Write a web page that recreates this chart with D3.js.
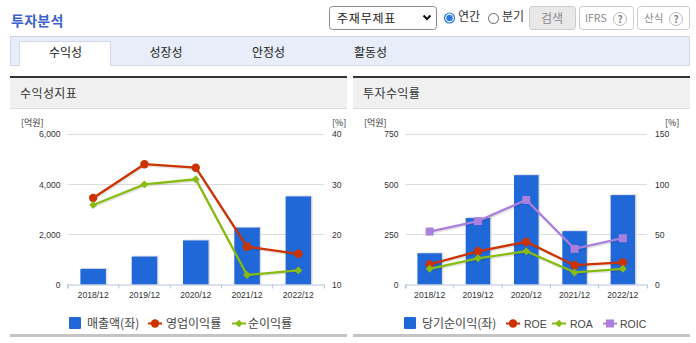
<!DOCTYPE html>
<html>
<head>
<meta charset="utf-8">
<script src="https://cdn.jsdelivr.net/npm/d3@7"></script>
<style>
html, body { margin: 0; padding: 0; background: #fff; overflow: hidden; }
text { font-family: "Noto Sans CJK KR", "Liberation Sans", sans-serif; }
.tick-label { font-family: "Liberation Sans", "Noto Sans CJK KR", sans-serif; font-size: 8.6px; fill: #333; }
</style>
</head>
<body>
<div id="chart"></div>
<script>
// values
const years = ["2018/12", "2019/12", "2020/12", "2021/12", "2022/12"];

const sales = [620, 1110, 1750, 2260, 3500];
const opMargin = [27.2, 33.9, 33.2, 17.5, 16.1];
const netMargin = [25.8, 29.9, 30.9, 11.9, 12.8];

const netIncome = [155, 330, 543, 265, 444];
const roe = [19.9, 33, 42.4, 19.2, 22];
const roa = [15.6, 26, 33, 12, 15.6];
const roic = [52.6, 63, 84, 35.4, 46];

const tabLabels = ["수익성", "성장성", "안정성", "활동성"];
const tabCenters = [65.5, 166, 268.5, 370.5];

const blue = "#2068d8", red = "#cc3300", green = "#88bb11", purple = "#aa7fdd";

const width = 696, height = 343;

const svg = d3.select("#chart")
    .append("svg")
    .attr("width", width)
    .attr("height", height)
    .style("display", "block");

// Header
svg.append("text").attr("x", 11).attr("y", 26)
    .attr("font-size", "14px").attr("font-weight", "bold").attr("letter-spacing", "0.3px").attr("fill", "#3b62cf")
    .text("투자분석");

function button(x, y, w, h, fill, stroke) {
    svg.append("rect").attr("x", x + 0.5).attr("y", y + 0.5).attr("width", w).attr("height", h)
        .attr("rx", 3).attr("fill", fill).attr("stroke", stroke);
}

function helpIcon(cx, cy) {
    svg.append("circle").attr("cx", cx).attr("cy", cy).attr("r", 6.5)
        .attr("fill", "#fff").attr("stroke", "#bbb");
    svg.append("text").attr("x", cx).attr("y", cy + 3.5).attr("text-anchor", "middle")
        .attr("font-size", "10px").attr("font-weight", "bold").attr("fill", "#888").text("?");
}

// select box
button(329, 6, 107, 23, "#fff", "#8a8a8a");
svg.append("text").attr("x", 337).attr("y", 23).attr("font-size", "12px").attr("letter-spacing", "0.8px").attr("fill", "#222").text("주재무제표");
svg.append("path").attr("d", "M423.5 15.5 L427 19 L430.5 15.5")
    .attr("fill", "none").attr("stroke", "#111").attr("stroke-width", 2);

// radios
svg.append("circle").attr("cx", 449.5).attr("cy", 18).attr("r", 5).attr("fill", "#fff").attr("stroke", "#2a77e0").attr("stroke-width", 1.2);
svg.append("circle").attr("cx", 449.5).attr("cy", 18).attr("r", 3.2).attr("fill", "#2a77e0");
svg.append("text").attr("x", 458).attr("y", 21).attr("font-size", "12px").attr("fill", "#333").text("연간");
svg.append("circle").attr("cx", 493.5).attr("cy", 18.5).attr("r", 5).attr("fill", "#fff").attr("stroke", "#666");
svg.append("text").attr("x", 502).attr("y", 21).attr("font-size", "12px").attr("fill", "#333").text("분기");

// buttons
button(529, 6, 46, 23, "#e8e8e8", "#ccc");
svg.append("text").attr("x", 552).attr("y", 23).attr("text-anchor", "middle").attr("font-size", "12px").attr("fill", "#888").text("검색");
button(579, 6, 54, 23, "#fff", "#ccc");
svg.append("text").attr("x", 585).attr("y", 22).attr("font-family", "Liberation Sans").attr("font-size", "10.5px").attr("fill", "#888").text("IFRS");
helpIcon(620, 19);
button(637, 6, 52, 23, "#fff", "#ccc");
svg.append("text").attr("x", 644).attr("y", 22).attr("font-size", "10.5px").attr("fill", "#888").text("산식");
helpIcon(676, 19);

// Tabs
svg.append("rect").attr("x", 10.5).attr("y", 36.5).attr("width", 679).attr("height", 29)
    .attr("fill", "#e8eef9").attr("stroke", "#d0d8e6");
svg.append("path").attr("d", "M19.5 66 V41.5 H110.5 V66").attr("fill", "#fff").attr("stroke", "#d0d8e6");

svg.selectAll(".tab")
    .data(tabLabels)
    .enter().append("text")
    .attr("class", "tab")
    .attr("x", (d, i) => tabCenters[i])
    .attr("y", 57)
    .attr("text-anchor", "middle")
    .attr("font-size", "12px")
    .attr("fill", "#222")
    .text(d => d);

// One panel: bars on the left axis, lines on the right axis
function drawPanel(cfg) {
    const g = svg.append("g");

    // title band
    g.append("rect").attr("x", cfg.left).attr("y", 78).attr("width", cfg.panelWidth).attr("height", 30).attr("fill", "#f0f0f0");
    g.append("rect").attr("x", cfg.left).attr("y", 76).attr("width", cfg.panelWidth).attr("height", 2).attr("fill", "#333");
    g.append("rect").attr("x", cfg.left).attr("y", 108).attr("width", cfg.panelWidth).attr("height", 1).attr("fill", "#ddd");
    g.append("text").attr("x", cfg.left + 10).attr("y", 98).attr("font-size", "12px").attr("letter-spacing", "0.4px").attr("fill", "#333").text(cfg.title);
    g.append("rect").attr("x", cfg.left).attr("y", 334).attr("width", cfg.panelWidth).attr("height", 3).attr("fill", "#c4c4c4");

    const x = d3.scaleBand().domain(years).range([cfg.x0, cfg.x1]);
    const yL = d3.scaleLinear().domain(cfg.leftDomain).range([284.5, 133.5]);
    const yR = d3.scaleLinear().domain(cfg.rightDomain).range([284.5, 133.5]);
    const cx = d => x(d) + x.bandwidth() / 2;

    // gridlines
    g.append("g").selectAll("line")
        .data(cfg.leftTicks.slice(1))
        .enter().append("line")
        .attr("x1", cfg.x0).attr("x2", cfg.x1)
        .attr("y1", d => Math.round(yL(d)) + 0.5).attr("y2", d => Math.round(yL(d)) + 0.5)
        .attr("stroke", "#dcdcdc");

    // bars with a soft shadow
    const barW = cfg.barWidth;
    g.append("g").selectAll("rect")
        .data(cfg.bars)
        .enter().append("rect")
        .attr("x", (d, i) => cx(years[i]) - barW / 2 + 1.5)
        .attr("y", d => yL(d) - 1)
        .attr("width", barW)
        .attr("height", d => yL(0) - yL(d) + 1)
        .attr("fill", "#e0e0e0");
    g.append("g").selectAll("rect")
        .data(cfg.bars)
        .enter().append("rect")
        .attr("x", (d, i) => cx(years[i]) - barW / 2)
        .attr("y", d => yL(d))
        .attr("width", barW)
        .attr("height", d => yL(0) - yL(d))
        .attr("fill", blue);

    // x axis
    const xAxis = g.append("g")
        .attr("transform", "translate(0,284.5)")
        .call(d3.axisBottom(x).tickSize(4).tickPadding(3).tickSizeOuter(4));
    xAxis.selectAll("path, line").attr("stroke", "#b4c4da");
    xAxis.selectAll(".tick line").attr("transform", `translate(${-x.bandwidth() / 2},0)`);
    xAxis.selectAll("text").attr("class", "tick-label");

    // y axes
    const left = g.append("g")
        .attr("transform", `translate(${cfg.x0},0)`)
        .call(d3.axisLeft(yL).tickValues(cfg.leftTicks).tickFormat(d3.format(",")).tickSize(0).tickPadding(7));
    const right = g.append("g")
        .attr("transform", `translate(${cfg.x1},0)`)
        .call(d3.axisRight(yR).tickValues(cfg.rightTicks).tickSize(0).tickPadding(8));
    left.select(".domain").remove();
    right.select(".domain").remove();
    left.selectAll("text").attr("class", "tick-label").attr("dy", "0.4em");
    right.selectAll("text").attr("class", "tick-label").attr("dy", "0.4em");

    // unit labels
    g.append("text").attr("x", cfg.unitL).attr("y", 126).attr("font-size", "9px").attr("fill", "#333").text("[억원]");
    g.append("text").attr("x", cfg.unitR).attr("y", 126).attr("font-size", "9px").attr("fill", "#333").text("[%]");

    // lines and markers
    cfg.lines.forEach(s => {
        const line = d3.line().x((d, i) => cx(years[i])).y(d => yR(d));
        g.append("path").datum(s.values)
            .attr("fill", "none").attr("stroke", "#000").attr("stroke-opacity", 0.1)
            .attr("stroke-width", 2.3).attr("transform", "translate(1,1.5)").attr("d", line);
        g.append("path").datum(s.values)
            .attr("fill", "none").attr("stroke", s.color).attr("stroke-width", 2.3).attr("d", line);
        g.append("g").selectAll("path")
            .data(s.values)
            .enter().append("path")
            .attr("transform", (d, i) => `translate(${cx(years[i])},${yR(d)})`)
            .attr("fill", s.color)
            .attr("d", d3.symbol().type(s.symbol).size(s.size)());
    });

    // legend
    const legend = g.append("g");
    cfg.legend.forEach(l => {
        if (l.bar) {
            legend.append("rect").attr("x", l.x).attr("y", 317).attr("width", 12).attr("height", 12).attr("rx", 1).attr("fill", l.color);
        } else {
            legend.append("line").attr("x1", l.x).attr("x2", l.x + 14).attr("y1", 323.5).attr("y2", 323.5)
                .attr("stroke", l.color).attr("stroke-width", 2);
            legend.append("path").attr("transform", `translate(${l.x + 7},323.5)`).attr("fill", l.color)
                .attr("d", d3.symbol().type(l.symbol).size(l.size)());
        }
        const t = legend.append("text").attr("x", l.tx).attr("y", 328).attr("fill", "#444").text(l.label);
        if (l.latin) t.attr("font-size", "10.5px").style("font-family", "Liberation Sans");
        else t.attr("font-size", "12px");
    });
}

drawPanel({
    title: "수익성지표", left: 10, panelWidth: 337,
    x0: 67.5, x1: 324, barWidth: 25.5,
    leftDomain: [0, 6000], rightDomain: [10, 40],
    leftTicks: [0, 2000, 4000, 6000], rightTicks: [10, 20, 30, 40],
    unitL: 21, unitR: 332,
    bars: sales,
    lines: [
        { values: opMargin, color: red, symbol: d3.symbolCircle, size: 55 },
        { values: netMargin, color: green, symbol: d3.symbolDiamond2, size: 40 }
    ],
    legend: [
        { bar: true, x: 69, tx: 87, color: blue, label: "매출액(좌)" },
        { x: 148, tx: 166, color: red, symbol: d3.symbolCircle, size: 55, label: "영업이익률" },
        { x: 232, tx: 248, color: green, symbol: d3.symbolDiamond2, size: 36, label: "순이익률" }
    ]
});

drawPanel({
    title: "투자수익률", left: 353, panelWidth: 337,
    x0: 405.5, x1: 647, barWidth: 24.5,
    leftDomain: [0, 750], rightDomain: [0, 150],
    leftTicks: [0, 250, 500, 750], rightTicks: [0, 50, 100, 150],
    unitL: 364, unitR: 665,
    bars: netIncome,
    lines: [
        { values: roic, color: purple, symbol: d3.symbolSquare, size: 64 },
        { values: roe, color: red, symbol: d3.symbolCircle, size: 55 },
        { values: roa, color: green, symbol: d3.symbolDiamond2, size: 40 }
    ],
    legend: [
        { bar: true, x: 404, tx: 422, color: blue, label: "당기순이익(좌)" },
        { x: 506, tx: 524, latin: true, color: red, symbol: d3.symbolCircle, size: 55, label: "ROE" },
        { x: 552, tx: 570, latin: true, color: green, symbol: d3.symbolDiamond2, size: 36, label: "ROA" },
        { x: 603, tx: 620, latin: true, color: purple, symbol: d3.symbolSquare, size: 64, label: "ROIC" }
    ]
});
</script>
</body>
</html>
